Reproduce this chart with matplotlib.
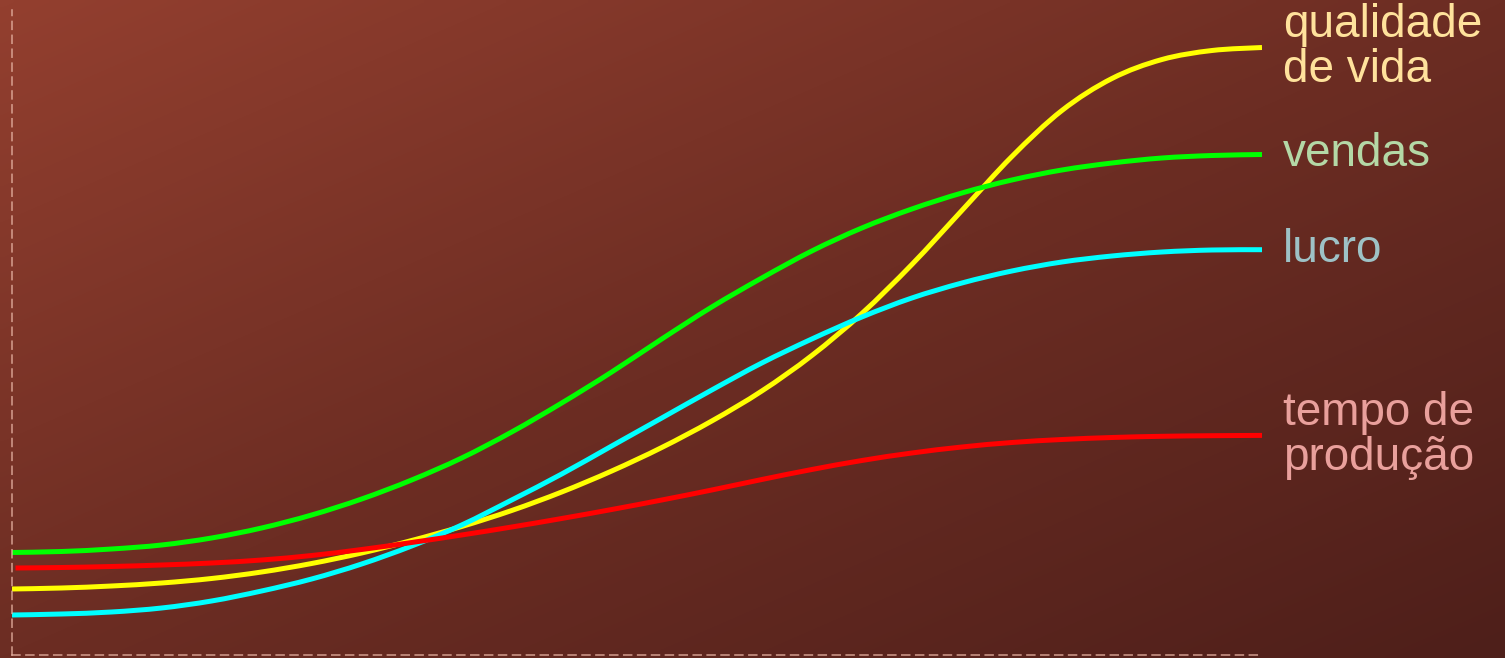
import numpy as np
import matplotlib
matplotlib.use("Agg")
import matplotlib.pyplot as plt
from matplotlib.colors import LinearSegmentedColormap
from matplotlib.path import Path
from matplotlib.patches import PathPatch

W, H, DPI = 1505, 658, 100

# time steps (26 evenly spaced points along the x axis)
x = [0, 1, 2, 3, 4, 5, 6, 7, 8, 9, 10, 11, 12,
     13, 14, 15, 16, 17, 18, 19, 20, 21, 22, 23, 24, 25]
x_red = [0.08] + x[1:]

# values (height above the bottom axis, px)
vendas = [102.5, 103.5, 106, 110, 117, 127, 140, 156, 175, 197, 223, 252, 283,
          316, 348, 377, 404, 427, 446, 462, 475, 485, 492, 497, 499.5, 500.5]
tempo = [87, 87.5, 88.5, 90, 92, 95, 99.5, 105.5, 112.5, 120, 128, 136.5, 145.5,
         155, 165, 175.5, 185.5, 194.5, 202, 208, 212.5, 215.5, 217.5, 218.7, 219.3, 219.6]
qualidade = [66, 67, 69, 72, 76.5, 83, 91.5, 102, 114.5, 128.5, 144.5, 163, 184,
             207.5, 234, 264, 299.5, 341.5, 390.5, 444.5, 498.5, 544.5, 576.5, 595.5, 604.5, 607.5]
lucro = [40, 41, 43, 47, 54, 64, 76, 91, 109, 130, 155, 181, 209,
         237, 265, 292, 316, 338, 357, 372, 384, 393, 399, 403, 405, 405.3]

series = [
    ("qualidade\nde vida", x, qualidade, "#ffff00", "#ffe29c"),
    ("vendas", x, vendas, "#00ff00", "#b4d8a6"),
    ("lucro", x, lucro, "#00ffff", "#9ec2c6"),
    ("tempo de\nprodução", x_red, tempo, "#ff0000", "#e9a09c"),
]


def smooth_path(xs, ys):
    # Catmull-Rom through the read points, drawn as cubic bezier segments
    p = np.column_stack([xs, ys]).astype(float)
    ext = np.vstack([p[0], p, p[-1]])
    verts = [p[0]]
    codes = [Path.MOVETO]
    for i in range(len(p) - 1):
        p0, p1, p2, p3 = ext[i], ext[i + 1], ext[i + 2], ext[i + 3]
        verts += [p1 + (p2 - p0) / 6, p2 - (p3 - p1) / 6, p2]
        codes += [Path.CURVE4] * 3
    return Path(verts, codes)


fig = plt.figure(figsize=(W / DPI, H / DPI), dpi=DPI)

# diagonal background gradient
bg = fig.add_axes([0, 0, 1, 1])
gx, gy = np.meshgrid(np.linspace(0, 1, 300), np.linspace(0, 1, 150))
grad = (gx + gy) / 2
cmap = LinearSegmentedColormap.from_list("bg", ["#933f2f", "#6c2d23", "#4e1f1a"])
bg.imshow(grad, cmap=cmap, aspect="auto", extent=[0, 1, 1, 0], interpolation="bilinear")
bg.set_axis_off()

left, right, top, bottom = 11.5, 1262, 10, 655
ax = fig.add_axes([left / W, (H - bottom) / H, (right - left) / W, (bottom - top) / H])
ax.set_facecolor("none")
ax.set_xlim(0, 25)
ax.set_ylim(0, 645)

for label, xs, ys, color, tcolor in series:
    ax.add_patch(PathPatch(smooth_path(xs, ys), fill=False, edgecolor=color,
                           lw=3.6, capstyle="butt"))
    ax.annotate(label, (xs[-1], ys[-1]), xytext=(15, 0), textcoords="offset points",
                color=tcolor, fontsize=33, family="Liberation Sans",
                va="center", ha="left", linespacing=1.05, annotation_clip=False)

for side in ["top", "right"]:
    ax.spines[side].set_visible(False)
for side in ["left", "bottom"]:
    ax.spines[side].set_color("#e6b2a2")
    ax.spines[side].set_linewidth(1.1)
    ax.spines[side].set_linestyle((0, (5.2, 3.9)))
    ax.spines[side].set_alpha(0.85)
ax.set_xticks([])
ax.set_yticks([])

fig.savefig("out.png", dpi=DPI)
